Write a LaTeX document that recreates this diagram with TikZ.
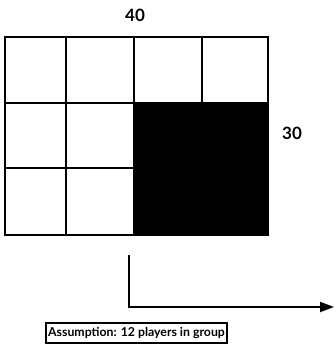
\documentclass[tikz,border=0pt]{standalone}
\usepackage{fontspec}
\setmainfont{Lato}
\usetikzlibrary{arrows.meta,positioning}

\begin{document}
\begin{tikzpicture}[x=1pt, y=-1pt,
    cell/.style={rectangle, draw=black, line width=2.8pt, minimum width=64pt, minimum height=66pt, inner sep=0pt},
    dimlabel/.style={font=\fontsize{17}{19}\selectfont\bfseries},
    note/.style={rectangle, draw=black, line width=2pt, font=\fontsize{12.3}{14}\selectfont\bfseries, inner sep=2pt, minimum height=20pt},
    flow/.style={line width=2pt, -{Triangle[length=14pt, width=10pt]}}
]
\useasboundingbox (0,0) rectangle (335,352);

% Grid - top row
\node[cell, minimum width=61pt] (c11) at (35.5, 70) {};
\node[cell, minimum width=68pt] (c12) at (100, 70) {};
\node[cell, minimum width=68pt] (c13) at (168, 70) {};
\node[cell, minimum width=66pt] (c14) at (235, 70) {};

% Grid - lower rows
\node[cell, minimum width=61pt, minimum height=65pt] (c21) at (35.5, 135.5) {};
\node[cell, minimum width=68pt, minimum height=65pt] (c22) at (100, 135.5) {};
\node[cell, minimum width=61pt, minimum height=67pt] (c31) at (35.5, 201.5) {};
\node[cell, minimum width=68pt, minimum height=67pt] (c32) at (100, 201.5) {};

% Shaded block
\node[cell, fill=black, minimum width=134pt, minimum height=132pt] (block) at (201, 169) {};

% Dimensions
\node[dimlabel] (width) at (135, 15) {40};
\node[dimlabel] (height) at (292, 133) {30};

% Arrow
\coordinate (start) at (129, 255);
\coordinate (corner) at (129, 307);
\coordinate (tip) at (334, 307);
\draw[flow] (start) -- (corner) -- (tip);

% Assumption
\node[note] (assume) at (136.5, 333) {Assumption: 12 players in group};

\end{tikzpicture}
\end{document}
